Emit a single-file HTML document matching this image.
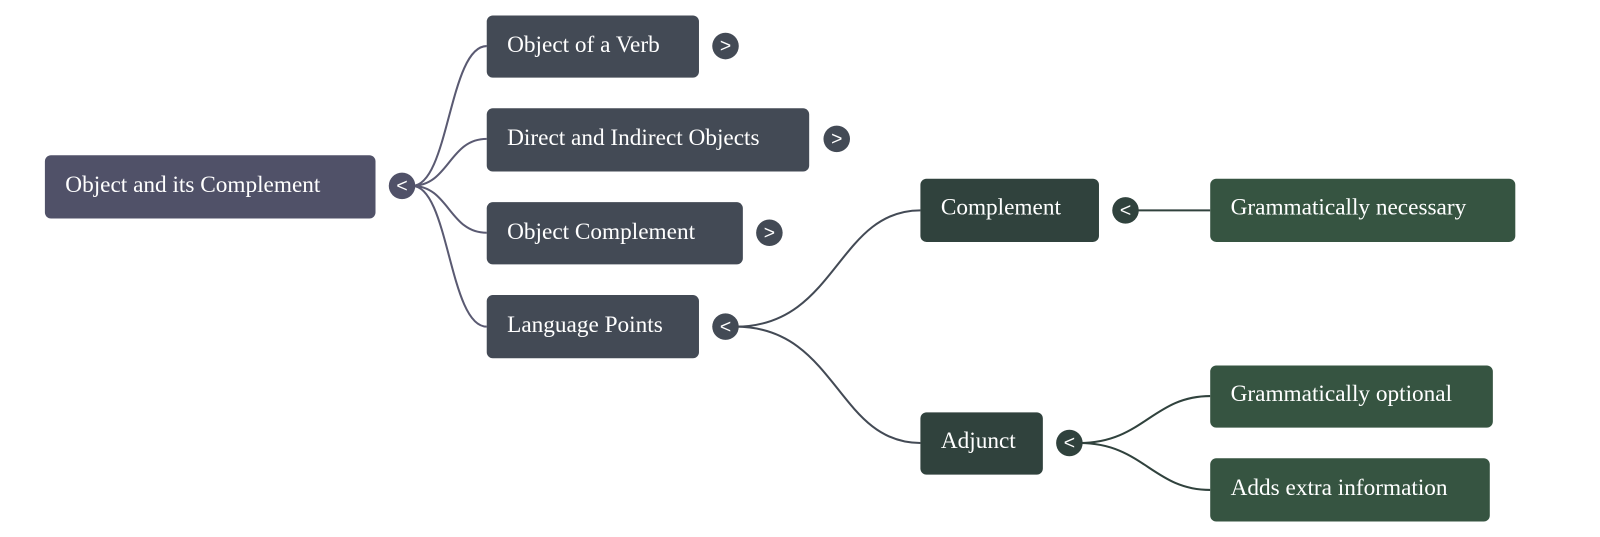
<!DOCTYPE html>
<html><head><meta charset="utf-8"><style>
html,body{margin:0;padding:0;background:#fff;width:1600px;height:537px;overflow:hidden}
svg{display:block}
text{font-family:"Liberation Serif",serif;font-size:22.8px;fill:#fff}
.c{font-family:"Liberation Sans",sans-serif;font-size:19px;font-weight:normal;text-anchor:middle}
</style></head><body>
<svg width="1600" height="537" viewBox="0 0 1568 526" xmlns="http://www.w3.org/2000/svg">
<g fill="none" stroke-width="2">
<g stroke="#5a5a72">
<path d="M404 182 C440 182 440 45 477 45"/>
<path d="M404 182 C440 182 440 136 477 136"/>
<path d="M404 182 C440 182 440 228 477 228"/>
<path d="M404 182 C440 182 440 320 477 320"/>
</g>
<g stroke="#434a55">
<path d="M721 320 C820 320 820 206 902 206"/>
<path d="M721 320 C820 320 820 434 902 434"/>
</g>
<g stroke="#30423d">
<path d="M1113 206 L1186 206"/>
<path d="M1058 434 C1120 434 1130 388 1186 388"/>
<path d="M1058 434 C1120 434 1130 480 1186 480"/>
</g>
</g>
<rect x="44" y="152" width="324" height="62" rx="6" fill="#505168"/>
<text x="64" y="188">Object and its Complement</text>
<circle cx="394" cy="182" r="13" fill="#505168"/><text class="c" x="394" y="188">&lt;</text>

<g fill="#434a55">
<rect x="477" y="15" width="208" height="61" rx="6"/>
<rect x="477" y="106" width="316" height="62" rx="6"/>
<rect x="477" y="198" width="251" height="61" rx="6"/>
<rect x="477" y="289" width="208" height="62" rx="6"/>
<circle cx="711" cy="45" r="13"/><circle cx="820" cy="136" r="13"/>
<circle cx="754" cy="228" r="13"/><circle cx="711" cy="320" r="13"/>
</g>
<text x="497" y="51">Object of a Verb</text>
<text x="497" y="142">Direct and Indirect Objects</text>
<text x="497" y="234">Object Complement</text>
<text x="497" y="325">Language Points</text>
<text class="c" x="711" y="51">&gt;</text><text class="c" x="820" y="142">&gt;</text>
<text class="c" x="754" y="234">&gt;</text><text class="c" x="711" y="326">&lt;</text>

<g fill="#30423d">
<rect x="902" y="175" width="175" height="62" rx="6"/>
<rect x="902" y="404" width="120" height="61" rx="6"/>
<circle cx="1103" cy="206" r="13"/><circle cx="1048" cy="434" r="13"/>
</g>
<text x="922" y="210">Complement</text>
<text x="922" y="439">Adjunct</text>
<text class="c" x="1103" y="212">&lt;</text><text class="c" x="1048" y="440">&lt;</text>

<g fill="#365441">
<rect x="1186" y="175" width="299" height="62" rx="6"/>
<rect x="1186" y="358" width="277" height="61" rx="6"/>
<rect x="1186" y="449" width="274" height="62" rx="6"/>
</g>
<text x="1206" y="210">Grammatically necessary</text>
<text x="1206" y="393">Grammatically optional</text>
<text x="1206" y="485">Adds extra information</text>
</svg>
</body></html>
